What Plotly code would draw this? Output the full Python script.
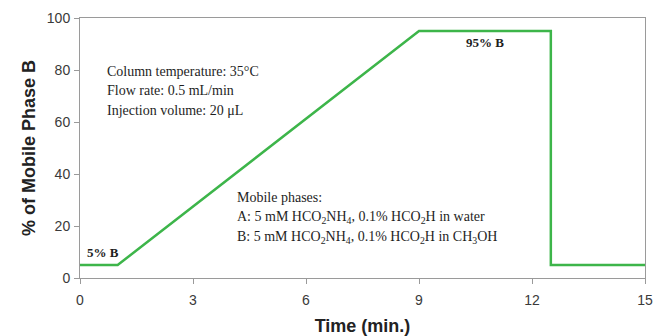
import plotly.graph_objects as go

time_min = [0, 1, 9, 12.5, 12.5, 15]
pct_b = [5, 5, 95, 95, 5, 5]
x_ticks = [0, 3, 6, 9, 12, 15]
y_ticks = [0, 20, 40, 60, 80, 100]

conditions = ["Column temperature: 35°C", "Flow rate: 0.5 mL/min", "Injection volume: 20 μL"]
phases = ["Mobile phases:",
          "A: 5 mM HCO<sub>2</sub>NH<sub>4</sub>, 0.1% HCO<sub>2</sub>H in water",
          "B: 5 mM HCO<sub>2</sub>NH<sub>4</sub>, 0.1% HCO<sub>2</sub>H in CH<sub>3</sub>OH"]

serif = "Liberation Serif, Times New Roman, serif"
sans = "Liberation Sans, Arial, sans-serif"
txt_col = "#1e1e1e"

fig = go.Figure()
fig.add_trace(go.Scatter(x=time_min, y=pct_b, mode="lines",
                         line=dict(color="#3db54a", width=2.5),
                         showlegend=False, hoverinfo="skip"))

axis_common = dict(showgrid=False, zeroline=False, showline=True, linecolor="#9a9a9a",
                   linewidth=1, ticks="outside", ticklen=5, tickcolor="#9a9a9a",
                   tickfont=dict(family=sans, size=14, color="#3a3a3a"),
                   mirror=True, automargin=False)

fig.update_layout(
    width=654, height=336,
    margin=dict(l=80, r=9, t=18, b=58),
    paper_bgcolor="white", plot_bgcolor="white",
    xaxis=dict(range=[0, 15], tickvals=x_ticks, ticklabelstandoff=4, **axis_common,
               title=dict(text="<b>Time (min.)</b>", standoff=12,
                          font=dict(family=sans, size=18, color="#222222"))),
    yaxis=dict(range=[0, 100], tickvals=y_ticks, ticklabelstandoff=1, **axis_common,
               title=dict(text="<b>% of Mobile Phase B</b>", standoff=6,
                          font=dict(family=sans, size=18, color="#222222"))),
)

fig.add_annotation(x=0.13, y=10, text="<b>5% B</b>", xanchor="left", yanchor="middle",
                   xref="x", yref="y", showarrow=False, font=dict(family=serif, size=13, color=txt_col))
fig.add_annotation(x=10.75, y=90.5, text="<b>95% B</b>", xanchor="center", yanchor="middle",
                   xref="x", yref="y", showarrow=False, font=dict(family=serif, size=13, color=txt_col))

for txt, yy in zip(conditions, [79.6, 72.1, 64.4]):
    fig.add_annotation(x=0.66, y=yy, text=txt, xanchor="left", yanchor="middle",
                       xref="x", yref="y", showarrow=False, font=dict(family=serif, size=14, color=txt_col))
for txt, yy in zip(phases, [30.8, 23.1, 15.4]):
    fig.add_annotation(x=4.12, y=yy, text=txt, xanchor="left", yanchor="middle",
                       xref="x", yref="y", showarrow=False, font=dict(family=serif, size=14, color=txt_col))

fig.write_html("out.html", config={"displayModeBar": False},
               post_script="document.body.style.margin='0';document.body.style.overflow='hidden';")
